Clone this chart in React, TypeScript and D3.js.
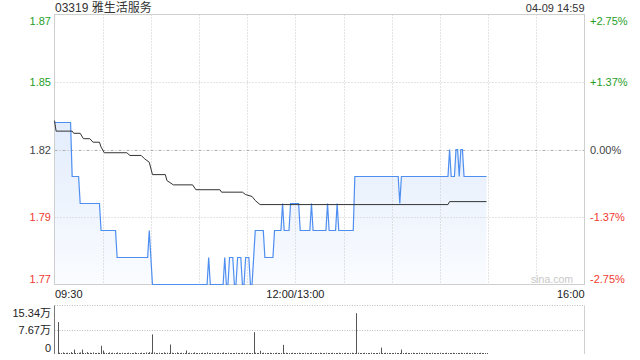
import React from "react";
import * as d3 from "d3";

// ---- data ----
const title = "03319 雅生活服务";
const stamp = "04-09 14:59";
const prevClose = 1.82;

// price line vertices (minute index from 09:30, lunch break removed)
const priceMinutes = [
  0, 10, 11, 15, 16, 28, 29, 38, 39, 58, 59, 61,
  95, 96, 97, 105, 106, 107, 108, 109, 111, 112, 113, 114, 116, 117,
  118, 119, 121, 122, 123, 125, 130, 131, 136, 137, 141, 142, 143,
  146, 147, 152, 153, 159, 160, 161, 169, 170, 171, 175, 176, 177,
  186, 187, 214, 215, 216, 245, 246, 247, 249, 250, 251, 252, 253, 254, 255, 269,
];
const priceValues = [
  1.83, 1.83, 1.81, 1.81, 1.8, 1.8, 1.79, 1.79, 1.78, 1.78, 1.79, 1.77,
  1.77, 1.78, 1.77, 1.77, 1.78, 1.77, 1.77, 1.78, 1.78, 1.77, 1.77, 1.78, 1.78, 1.77,
  1.77, 1.78, 1.78, 1.77, 1.77, 1.79, 1.79, 1.78, 1.78, 1.79, 1.79, 1.8, 1.79,
  1.79, 1.8, 1.8, 1.79, 1.79, 1.8, 1.79, 1.79, 1.8, 1.79, 1.79, 1.8, 1.79,
  1.79, 1.81, 1.81, 1.8, 1.81, 1.81, 1.82, 1.81, 1.81, 1.82, 1.82, 1.81, 1.82, 1.82, 1.81, 1.81,
];

// average price line vertices
const avgMinutes = [
  0, 1, 11, 12, 16, 18, 22, 24, 28, 29, 31, 45, 47, 54, 56, 59, 61, 69, 70, 74, 86, 88,
  103, 104, 117, 119, 123, 125, 128, 245, 246, 269,
];
const avgValues = [
  1.8307, 1.8268, 1.8268, 1.826, 1.826, 1.824, 1.824, 1.8227, 1.8227, 1.8209, 1.8188,
  1.8188, 1.8178, 1.8178, 1.8166, 1.8153, 1.8107, 1.8107, 1.8085, 1.8069, 1.8069, 1.8051,
  1.8051, 1.8042, 1.8042, 1.8033, 1.8026, 1.8011, 1.7996, 1.7996, 1.8007, 1.8007,
];

// per-minute volume (万)
const volumes = [
  0, 0, 10.1, 0.4, 0.3, 0.5, 0.2, 0.3, 0.4, 0.2, 0.6, 0.3, 1.4, 0.3, 0.2, 0.4, 0.5, 1.4, 0.3, 0.2, 0.6, 0.3, 0.4, 0.2, 0.5, 0.3, 0.2, 0.4, 0.3, 2.6,
  1.1, 0.4, 0.3, 0.2, 0.5, 0.3, 0.4, 0.2, 0.3, 0.5, 0.2, 0.3, 0.4, 0.2, 0.3, 0.2, 0.4, 0.3, 0.2, 0.3, 0.5, 0.2, 0.3, 0.2, 0.4, 0.3, 0.2, 0.5, 0.3, 0.6,
  0.4, 6.2, 0.5, 0.3, 0.2, 0.4, 0.3, 0.2, 0.5, 0.3, 0.4, 0.2, 3.0, 0.4, 0.3, 0.2, 0.5, 0.3, 0.2, 0.4, 0.3, 0.2, 1.1, 0.3, 0.4, 0.2, 0.3, 0.5, 0.2, 0.3,
  0.2, 0.3, 0.4, 0.2, 0.3, 0.5, 0.3, 0.2, 0.4, 0.3, 0.2, 0.3, 0.4, 0.2, 0.3, 0.5, 0.3, 0.2, 0.4, 0.3, 0.2, 0.3, 0.2, 0.4, 0.3, 0.2, 0.3, 0.4, 0.2, 0.3,
  0.4, 0.3, 0.2, 0.3, 6.9, 0.4, 0.3, 0.2, 1.0, 0.3, 0.4, 0.2, 0.3, 0.2, 0.4, 0.3, 0.2, 0.3, 0.4, 0.2, 0.3, 0.2, 2.9, 0.3, 0.4, 0.2, 0.3, 0.2, 0.4, 0.3,
  0.2, 0.3, 0.4, 0.2, 0.3, 0.2, 0.4, 0.3, 0.2, 0.3, 0.4, 0.2, 0.3, 0.2, 0.3, 0.4, 0.2, 0.3, 0.2, 0.4, 0.3, 0.2, 0.3, 0.4, 0.2, 0.3, 0.2, 0.4, 0.3, 0.2,
  0.3, 0.4, 0.2, 0.3, 0.2, 0.4, 0.3, 0.2, 12.9, 0.4, 0.3, 0.2, 0.3, 0.4, 0.2, 0.3, 0.2, 0.4, 0.3, 0.2, 0.3, 0.2, 0.4, 2.0, 0.3, 0.2, 0.4, 0.3, 0.2, 0.3,
  0.2, 0.3, 0.4, 0.2, 0.3, 0.2, 1.4, 0.3, 0.2, 0.4, 0.3, 0.2, 0.3, 0.4, 0.2, 0.3, 0.2, 0.4, 0.3, 0.2, 0.3, 0.4, 0.2, 0.3, 0.2, 0.4, 0.3, 0.2, 0.3, 0.2,
  0.4, 0.3, 0.2, 0.3, 0.4, 0.2, 0.3, 0.2, 0.4, 0.3, 0.2, 0.3, 0.2, 0.4, 0.3, 0.2, 0.3, 0.4, 0.2, 0.3, 0.2, 0.4, 0.3, 0.2, 0.3, 0.4, 0.2, 0.3, 0.2, 0.3,
];

const priceTickValues = [1.87, 1.845, 1.82, 1.795, 1.77];
const priceTickLabels = ["1.87", "1.85", "1.82", "1.79", "1.77"];
const pctTickLabels = ["+2.75%", "+1.37%", "0.00%", "-1.37%", "-2.75%"];
const timeTickMinutes = [0, 150, 330];
const timeTickLabels = ["09:30", "12:00/13:00", "16:00"];
const volMax = 15.34;
const volTickValues = [15.34, 7.67, 0];
const volTickLabels = ["15.34万", "7.67万", "0"];

// ---- layout ----
const W = 640;
const H = 360;
const L = 54.5;
const R = 584.5;
const T = 14.5;
const B = 284.5;
const VT = 305.5;
const VB = 354;
const FONT = "'Liberation Sans', Arial, 'Noto Sans CJK SC', sans-serif";
const GREEN = "#1f9e1f";
const RED = "#f03a30";
const NEUTRAL = "#444";

export default function App() {
  const x = d3.scaleLinear().domain([0, 330]).range([L, R]);
  const y = d3.scaleLinear().domain([1.77, 1.87]).range([B, T]);
  const vy = d3.scaleLinear().domain([0, volMax]).range([VB, VT]);

  const pricePts = priceMinutes.map((m, i) => [m, priceValues[i]] as [number, number]);
  const avgPts = avgMinutes.map((m, i) => [m, avgValues[i]] as [number, number]);

  const line = d3
    .line<[number, number]>()
    .x((d) => x(d[0]))
    .y((d) => y(d[1]));
  const area = d3
    .area<[number, number]>()
    .x((d) => x(d[0]))
    .y0(B)
    .y1((d) => y(d[1]));

  const gridMinutes = d3.range(30, 330, 30);
  const colorFor = (v: number) => (v > prevClose + 1e-9 ? GREEN : v < prevClose - 1e-9 ? RED : NEUTRAL);

  return (
    <svg
      width={W}
      height={H}
      style={{ position: "absolute", left: 0, top: 0, background: "#fff" }}
      fontFamily={FONT}
    >
      <defs>
        <linearGradient id="fillGrad" gradientUnits="userSpaceOnUse" x1="0" y1={T} x2="0" y2={B}>
          <stop offset="0" stopColor="#d3e2fa" />
          <stop offset="1" stopColor="#fafcff" />
        </linearGradient>
      </defs>

      {/* header */}
      <text x={55} y={12} fontSize={12} fill="#333">
        {title}
      </text>
      <text x={R} y={12} fontSize={11} fill="#333" textAnchor="end">
        {stamp}
      </text>

      {/* price area */}
      <path d={area(pricePts) || ""} fill="url(#fillGrad)" />

      {/* vertical grid */}
      {gridMinutes.map((m) => (
        <line
          key={"vg" + m}
          x1={Math.round(x(m)) + 0.5}
          x2={Math.round(x(m)) + 0.5}
          y1={T}
          y2={B}
          stroke="#c8c8c8"
          strokeDasharray="1,2"
        />
      ))}
      {/* horizontal grid */}
      {priceTickValues.slice(1, 4).map((v) => (
        <line
          key={"hg" + v}
          x1={L}
          x2={R}
          y1={Math.round(y(v)) + 0.5}
          y2={Math.round(y(v)) + 0.5}
          stroke={v === prevClose ? "#b0b0b0" : "#c8c8c8"}
          strokeDasharray={v === prevClose ? "3,2,1,2" : "1,2"}
        />
      ))}

      {/* frame */}
      <rect x={L} y={T} width={R - L} height={B - T} fill="none" stroke="#cfcfcf" />

      {/* watermark */}
      <text x={573} y={283} fontSize={10.5} fill="#c8c8c8" textAnchor="end">
        sina.com
      </text>

      {/* lines */}
      <path d={line(pricePts) || ""} fill="none" stroke="#4d8ef0" strokeWidth={1.2} />
      <path d={line(avgPts) || ""} fill="none" stroke="#333" strokeWidth={1} />

      {/* price labels */}
      {priceTickValues.map((v, i) => {
        let cy = y(v);
        if (i === 0) cy += 6;
        if (i === priceTickValues.length - 1) cy -= 6;
        const c = colorFor(v);
        return (
          <g key={"pl" + i}>
            <text x={51} y={cy + 4} fontSize={11} fill={c} textAnchor="end">
              {priceTickLabels[i]}
            </text>
            <text x={590} y={cy + 4} fontSize={11} fill={c}>
              {pctTickLabels[i]}
            </text>
          </g>
        );
      })}

      {/* time labels */}
      {timeTickMinutes.map((m, i) => (
        <text
          key={"tl" + i}
          x={i === 0 ? 55 : x(m)}
          y={298}
          fontSize={11}
          fill="#222"
          textAnchor={i === 0 ? "start" : i === timeTickMinutes.length - 1 ? "end" : "middle"}
        >
          {timeTickLabels[i]}
        </text>
      ))}

      {/* volume panel */}
      <line x1={L} x2={R} y1={VT} y2={VT} stroke="#bdbdbd" strokeDasharray="1,1.5" />
      <line x1={L} x2={R} y1={Math.round(vy(7.67)) + 0.5} y2={Math.round(vy(7.67)) + 0.5} stroke="#bdbdbd" strokeDasharray="1,1.5" />
      <line x1={R} x2={R} y1={VT} y2={VB} stroke="#d0d0d0" />
      <line x1={L} x2={L} y1={VT} y2={VB} stroke="#777" />
      {volumes.map((v, m) =>
        v > 0 ? (
          <line
            key={"vb" + m}
            x1={Math.round(x(m)) + 0.5}
            x2={Math.round(x(m)) + 0.5}
            y1={VB}
            y2={Math.min(vy(v), VB - 1)}
            stroke="#555"
            strokeWidth={1}
          />
        ) : null
      )}
      {volTickValues.map((v, i) => {
        let cy = vy(v);
        if (i === 0) cy += 7;
        if (i === volTickValues.length - 1) cy -= 6;
        return (
          <text key={"vl" + i} x={51} y={cy + 4} fontSize={11} fill="#222" textAnchor="end">
            {volTickLabels[i]}
          </text>
        );
      })}
    </svg>
  );
}
